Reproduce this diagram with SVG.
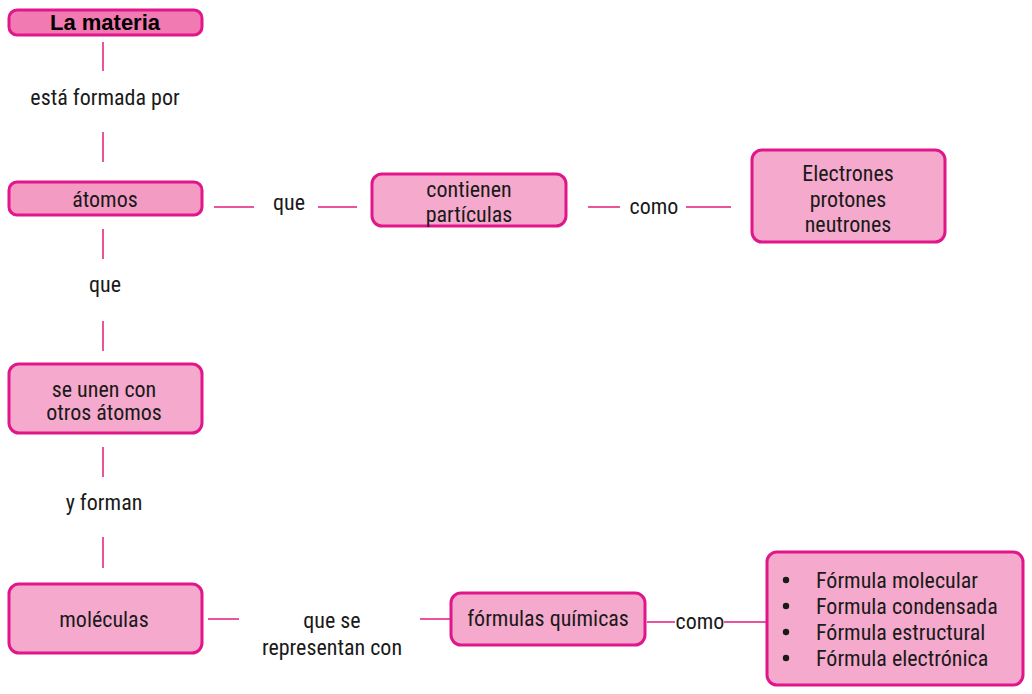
<svg xmlns="http://www.w3.org/2000/svg" width="1032" height="694" viewBox="0 0 1032 694">
<style>
.n{fill:#f5a9cc;stroke:#e0168a;stroke-width:3}
.t{font-family:"Liberation Sans Narrow","Roboto Condensed","Liberation Sans",sans-serif;font-size:22px;fill:#1a1a1a;text-anchor:middle}
.l{font-family:"Liberation Sans Narrow","Roboto Condensed","Liberation Sans",sans-serif;font-size:22px;fill:#1a1a1a}
.c{stroke:#e8559d;stroke-width:2;fill:none}
</style>
<rect width="1032" height="694" fill="#fff"/>
<g id="connectors">
<line class="c" x1="103" y1="42" x2="103" y2="71"/>
<text class="t" x="105" y="105">está formada por</text>
<line class="c" x1="103" y1="132" x2="103" y2="162"/>
<line class="c" x1="103" y1="229" x2="103" y2="259"/>
<text class="t" x="105" y="292">que</text>
<line class="c" x1="103" y1="321" x2="103" y2="351"/>
<line class="c" x1="103" y1="447" x2="103" y2="477"/>
<text class="t" x="104" y="510">y forman</text>
<line class="c" x1="103" y1="537" x2="103" y2="568"/>
<line class="c" x1="214" y1="207" x2="254" y2="207"/>
<text class="t" x="289" y="210">que</text>
<line class="c" x1="318" y1="207" x2="357" y2="207"/>
<line class="c" x1="588" y1="207" x2="620" y2="207"/>
<text class="t" x="654" y="214">como</text>
<line class="c" x1="686" y1="207" x2="731" y2="207"/>
<line class="c" x1="208" y1="619" x2="239" y2="619"/>
<text class="t" x="332" y="628">que se</text>
<text class="t" x="332" y="655">representan con</text>
<line class="c" x1="420" y1="619" x2="451" y2="619"/>
<line class="c" x1="647" y1="622" x2="675" y2="622"/>
<text class="t" x="700" y="629">como</text>
<line class="c" x1="724" y1="622" x2="767" y2="622"/>
</g>
<g id="la-materia">
<rect class="n" x="9" y="10" width="193" height="25" rx="8" style="fill:#f07ab1"/>
<text class="t" x="105" y="30" style="font-family:'Liberation Sans',Arial,sans-serif;font-weight:bold;font-size:22px;fill:#000">La materia</text>
</g>
<g id="atomos">
<rect class="n" x="9" y="182" width="193" height="33" rx="8" style="fill:#f39bc3"/>
<text class="t" x="105" y="207">átomos</text>
</g>
<g id="se-unen">
<rect class="n" x="9" y="364" width="193" height="69" rx="10"/>
<text class="t" x="104" y="397">se unen con</text>
<text class="t" x="104" y="420">otros átomos</text>
</g>
<g id="moleculas">
<rect class="n" x="9" y="584" width="193" height="69" rx="10"/>
<text class="t" x="104" y="627">moléculas</text>
</g>
<g id="contienen">
<rect class="n" x="372" y="174" width="194" height="52" rx="10"/>
<text class="t" x="469" y="197">contienen</text>
<text class="t" x="469" y="222">partículas</text>
</g>
<g id="electrones">
<rect class="n" x="752" y="150" width="193" height="92" rx="10"/>
<text class="t" x="848" y="181">Electrones</text>
<text class="t" x="848" y="207">protones</text>
<text class="t" x="848" y="232">neutrones</text>
</g>
<g id="formulas">
<rect class="n" x="451" y="593" width="194" height="52" rx="10"/>
<text class="t" x="548" y="626">fórmulas químicas</text>
</g>
<g id="tipos">
<rect class="n" x="767" y="552" width="256" height="133" rx="10"/>
<circle cx="786" cy="580" r="3.2" fill="#1a1a1a"/>
<circle cx="786" cy="606" r="3.2" fill="#1a1a1a"/>
<circle cx="786" cy="632" r="3.2" fill="#1a1a1a"/>
<circle cx="786" cy="658" r="3.2" fill="#1a1a1a"/>
<text class="l" x="816" y="588">Fórmula molecular</text>
<text class="l" x="816" y="614">Formula condensada</text>
<text class="l" x="816" y="640">Fórmula estructural</text>
<text class="l" x="816" y="666">Fórmula electrónica</text>
</g>
</svg>
